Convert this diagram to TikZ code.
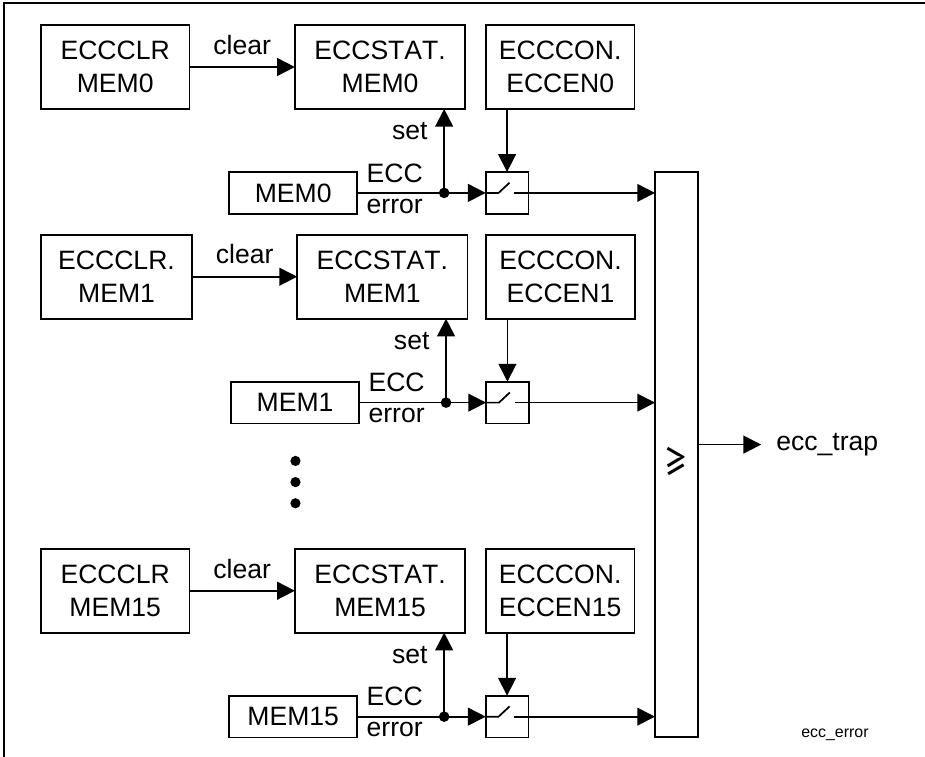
\documentclass[tikz,border=0pt]{standalone}
\usepackage{fontspec}
\setmainfont[Kerning=Off]{Liberation Sans}
\newfontfamily\gefont{PT Sans}
\usetikzlibrary{arrows.meta, positioning}

\begin{document}
\begin{tikzpicture}[
    >={Triangle[length=0.47cm, width=0.47cm]},
    font=\fontsize{20}{24.6}\selectfont,
    regbox/.style={rectangle, draw=black, line width=1.3pt, minimum width=3.93cm, minimum height=2.22cm, align=center, inner sep=0pt, outer sep=0pt},
    statbox/.style={regbox, minimum width=4.51cm},
    conbox/.style={regbox, minimum width=3.94cm},
    membox/.style={regbox, minimum width=3.39cm, minimum height=1.1cm},
    switchbox/.style={rectangle, draw=black, line width=1.3pt, minimum width=1.13cm, minimum height=1.11cm, inner sep=0pt, outer sep=0pt,
        path picture={
            \draw[line width=1.3pt] (path picture bounding box.west) -- ++(0.34,0) -- ++(0.29,0.27);
            \draw[line width=1.3pt] (path picture bounding box.east) -- ++(-0.37,0);
        }},
    orbox/.style={rectangle, draw=black, line width=1.3pt, minimum width=1.13cm, minimum height=14.95cm, inner sep=0pt, outer sep=0pt},
    arr/.style={->, line width=1.3pt, draw=black},
    setarr/.style={->, line width=1.6pt, draw=black},
    sig/.style={inner sep=0pt, outer sep=0pt},
    jdot/.style={circle, fill=black, minimum size=0.28cm, inner sep=0pt, outer sep=0pt},
    vdot/.style={circle, fill=black, minimum size=0.27cm, inner sep=0pt, outer sep=0pt}
]

\useasboundingbox (-3.049,1.773) rectangle (21.43,-18.256);

% outer frame, only left and top are in the picture
\coordinate (framestart) at (-2.944,-18.256);
\coordinate (frameend) at (21.43,1.693);
\draw[line width=0.9pt] (framestart) |- (frameend);

% MEM0
\node[regbox] (clr0) {ECCCLR\\MEM0};
\node[statbox, right=2.79cm of clr0] (stat0) {ECCSTAT.\\MEM0};
\node[conbox, right=0.54cm of stat0] (con0) {ECCCON.\\ECCEN0};
\node[switchbox, below right=1.667cm and 0cm of con0.south west] (sw0) {};
\node[membox, left=3.4cm of sw0] (mem0) {MEM0};
\node[jdot, right=2.16cm of mem0] (dot0) {};
\draw[arr] (clr0) -- node[sig, above=0.33cm] {clear} (stat0);
\draw[arr] (mem0) -- (sw0);
\draw[setarr] (dot0.center) -- (dot0.center |- stat0.south);
\draw[arr] (sw0.north |- con0.south) -- (sw0.north);
\node[sig, above right=0.28cm and 0.25cm of mem0.east] (ecc0) {ECC};
\node[sig, below right=0.16cm and 0.25cm of mem0.east] (err0) {error};
\node[sig, above left=1.4cm and 0.44cm of dot0.center] (set0) {set};

% MEM1
\node[regbox, minimum width=4cm, below=3.33cm of clr0, xshift=0.035cm] (clr1) {ECCCLR.\\MEM1};
\node[statbox, right=2.78cm of clr1] (stat1) {ECCSTAT.\\MEM1};
\node[conbox, right=0.49cm of stat1] (con1) {ECCCON.\\ECCEN1};
\node[switchbox, below right=1.667cm and 0cm of con1.south west] (sw1) {};
\node[membox, left=3.36cm of sw1] (mem1) {MEM1};
\node[jdot, right=2.16cm of mem1] (dot1) {};
\draw[arr] (clr1) -- node[sig, above=0.33cm] {clear} (stat1);
\draw[arr] (mem1) -- (sw1);
\draw[setarr] (dot1.center) -- (dot1.center |- stat1.south);
\draw[arr] (sw1.north |- con1.south) -- (sw1.north);
\node[sig, above right=0.28cm and 0.25cm of mem1.east] (ecc1) {ECC};
\node[sig, below right=0.16cm and 0.25cm of mem1.east] (err1) {error};
\node[sig, above left=1.4cm and 0.44cm of dot1.center] (set1) {set};

% dots between the rows
\node[vdot, below=3.63cm of stat1.south west, xshift=-0.045cm] (more1) {};
\node[vdot, below=0.29cm of more1] (more2) {};
\node[vdot, below=0.29cm of more2] (more3) {};

% MEM15
\node[regbox, below=6.09cm of clr1, xshift=-0.035cm] (clr15) {ECCCLR\\MEM15};
\node[statbox, right=2.79cm of clr15] (stat15) {ECCSTAT.\\MEM15};
\node[conbox, right=0.54cm of stat15] (con15) {ECCCON.\\ECCEN15};
\node[switchbox, below right=1.667cm and 0cm of con15.south west] (sw15) {};
\node[membox, left=3.4cm of sw15] (mem15) {MEM15};
\node[jdot, right=2.16cm of mem15] (dot15) {};
\draw[arr] (clr15) -- node[sig, above=0.33cm] {clear} (stat15);
\draw[arr] (mem15) -- (sw15);
\draw[setarr] (dot15.center) -- (dot15.center |- stat15.south);
\draw[arr] (sw15.north |- con15.south) -- (sw15.north);
\node[sig, above right=0.28cm and 0.25cm of mem15.east] (ecc15) {ECC};
\node[sig, below right=0.16cm and 0.25cm of mem15.east] (err15) {error};
\node[sig, above left=1.4cm and 0.44cm of dot15.center] (set15) {set};

% or block and output
\node[orbox, below right=0cm and 3.35cm of sw0.north east] (orbar) {};
\node[sig, font=\fontsize{32}{34}\selectfont\gefont] (ge) at ([yshift=-0.19cm]orbar.center) {≥};
\draw[arr] (sw0.east) -- (sw0.east -| orbar.west);
\draw[arr] (sw1.east) -- (sw1.east -| orbar.west);
\draw[arr] (sw15.east) -- (sw15.east -| orbar.west);

\node[sig, right=2.08cm of orbar, yshift=0.26cm] (trap) {ecc\_trap};
\draw[arr] (trap.west -| orbar.east) -- ([xshift=-0.4cm]trap.west);
\node[sig, right=2.74cm of orbar.south east, yshift=0.05cm, font=\fontsize{12}{14}\selectfont] (errtag) {ecc\_error};

\end{tikzpicture}
\end{document}
